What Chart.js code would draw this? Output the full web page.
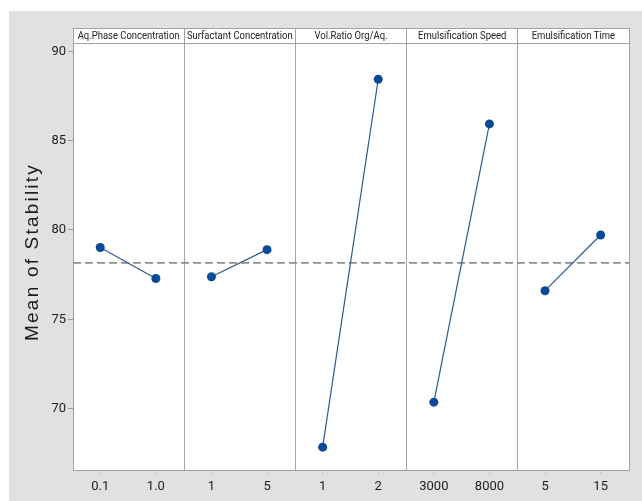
<!DOCTYPE html>
<html>
<head>
<meta charset="utf-8">
<script src="https://cdn.jsdelivr.net/npm/chart.js@4"></script>
<style>
  html, body { margin: 0; padding: 0; background: #ffffff; }
  #wrap { position: absolute; left: 9px; top: 11px; width: 633px; height: 490px; background: #e1e1e1; }
</style>
</head>
<body>
<div id="wrap"><canvas id="main"></canvas></div>
<script>
// main effects plot for Stability
const factors = ['Aq.Phase Concentration', 'Surfactant Concentration', 'Vol.Ratio Org/Aq.', 'Emulsification Speed', 'Emulsification Time'];
const lowLabels = ['0.1', '1', '1', '3000', '5'];
const highLabels = ['1.0', '5', '2', '8000', '15'];
const lowMeans = [79.02, 77.38, 67.84, 70.36, 76.60];
const highMeans = [77.28, 78.90, 88.44, 85.94, 79.72];
const grandMean = 78.16;
const yTicks = [70, 75, 80, 85, 90];

const slots = [0.245, 0.745];
const narrow = "Roboto, 'Liberation Sans', sans-serif";
const xTickLabels = [];
const xTickPos = [];
factors.forEach((f, i) => {
	xTickLabels.push(lowLabels[i], highLabels[i]);
	xTickPos.push(i + slots[0], i + slots[1]);
});

const datasets = factors.map((f, i) => ({
	label: f,
	data: [{x: i + slots[0], y: lowMeans[i]}, {x: i + slots[1], y: highMeans[i]}],
	showLine: true,
	borderColor: '#2f5b88',
	borderWidth: 1.2,
	backgroundColor: '#0b4a96',
	pointRadius: 4.5,
	pointBorderWidth: 0,
	order: 0
}));
datasets.push({
	label: 'mean',
	data: [{x: 0, y: grandMean}, {x: factors.length, y: grandMean}],
	showLine: true,
	borderColor: '#8e8e8e',
	borderWidth: 1.8,
	borderDash: [8, 4],
	pointRadius: 0,
	order: 10
});

const panelFrame = {
	id: 'panelFrame',
	beforeDraw(chart) {
		const {ctx, chartArea: a} = chart;
		ctx.save();
		ctx.fillStyle = '#ffffff';
		ctx.fillRect(a.left, a.top, a.right - a.left, a.bottom - a.top);
		ctx.restore();
	},
	afterDraw(chart) {
		const {ctx, chartArea: a, scales} = chart;
		ctx.save();
		ctx.strokeStyle = '#a3a3a3';
		ctx.lineWidth = 1;
		ctx.beginPath();
		ctx.moveTo(a.left, a.top + 0.5); ctx.lineTo(a.right, a.top + 0.5);
		ctx.moveTo(a.left, a.top + 15.5); ctx.lineTo(a.right, a.top + 15.5);
		ctx.stroke();
		ctx.fillStyle = '#222222';
		ctx.font = '11px ' + narrow;
		ctx.textAlign = 'center';
		ctx.textBaseline = 'middle';
		// panel titles, squeezed to look like the condensed face
		factors.forEach((f, i) => {
			ctx.save();
			ctx.translate(scales.x.getPixelForValue(i + 0.5), a.top + 8.5);
			ctx.scale(0.86, 1);
			ctx.fillText(f, 0, 0);
			ctx.restore();
		});
		// y title
		ctx.translate(24, (a.top + a.bottom) / 2 + 3);
		ctx.rotate(-Math.PI / 2);
		ctx.font = "19px 'Liberation Sans', sans-serif";
		ctx.letterSpacing = '2.2px';
		ctx.fillStyle = '#1a1a1a';
		ctx.fillText('Mean of Stability', 0, 0);
		ctx.restore();
	}
};

new Chart(document.getElementById('main'), {
	type: 'scatter',
	data: {datasets: datasets},
	options: {
		animation: false,
		responsive: true,
		maintainAspectRatio: false,
		layout: {padding: {left: 9, top: 17, right: 13, bottom: 0}},
		plugins: {legend: {display: false}, tooltip: {enabled: false}},
		scales: {
			x: {
				type: 'linear',
				min: 0,
				max: factors.length,
				afterBuildTicks: s => { s.ticks = xTickPos.map(v => ({value: v})); },
				afterFit: s => { s.height = 31; },
				ticks: {
					callback: (v, i) => xTickLabels[i],
					font: {family: narrow, size: 13},
					color: '#1e1e1e',
					padding: 5,
					maxRotation: 0,
					autoSkip: false
				},
				grid: {drawOnChartArea: false, tickLength: 4, color: '#c4c4c4'},
				border: {color: '#a3a3a3'}
			},
			x2: {
				type: 'linear',
				position: 'bottom',
				min: 0,
				max: factors.length,
				afterBuildTicks: s => { s.ticks = factors.concat(['']).map((f, i) => ({value: i})); },
				afterFit: s => { s.height = 0; },
				ticks: {display: false},
				grid: {drawTicks: false, color: '#a3a3a3'},
				border: {display: false}
			},
			y: {
				min: 66.56,
				max: 91.31,
				afterBuildTicks: s => { s.ticks = yTicks.map(v => ({value: v})); },
				afterFit: s => { s.width = 55; },
				ticks: {
					font: {family: narrow, size: 13},
					color: '#1e1e1e',
					padding: 2
				},
				grid: {drawOnChartArea: false, tickLength: 5, color: '#9a9a9a'},
				border: {color: '#a3a3a3'}
			}
		}
	},
	plugins: [panelFrame]
});
</script>
</body>
</html>
